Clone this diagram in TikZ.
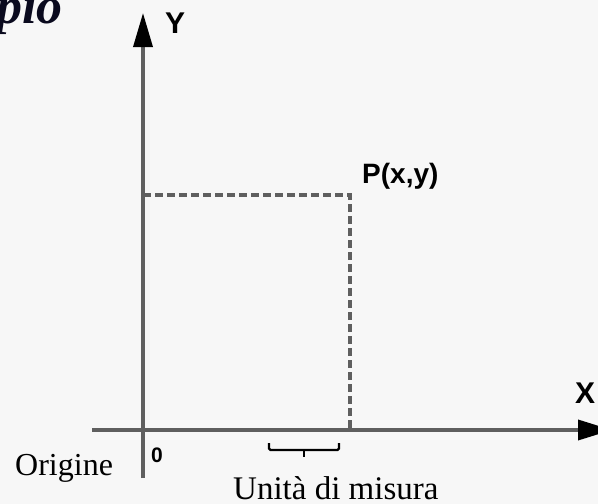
\documentclass[tikz,border=0pt]{standalone}
\usepackage{fontspec}
\setmainfont{Liberation Serif}
\newfontfamily\arialf{Liberation Sans}
\usetikzlibrary{arrows.meta}
\definecolor{bg}{RGB}{247,247,247}
\definecolor{axisgray}{RGB}{95,95,95}
\definecolor{titlecol}{RGB}{10,10,30}
\tikzset{
  axisline/.style={draw=axisgray, line width=3.5pt},
  dashline/.style={draw=axisgray, line width=3.5pt, dash pattern=on 8pt off 4pt},
  lab/.style={inner sep=0pt, anchor=base west},
  sanslab/.style={lab, font=\arialf\bfseries\fontsize{30}{30}\selectfont},
  seriflab/.style={lab, font=\fontsize{32}{32}\selectfont},
}
\begin{document}
\begin{tikzpicture}[x=1pt,y=-1pt]
\fill[bg] (0,0) rectangle (598,504);
\useasboundingbox (0,0) rectangle (598,504);
\begin{scope}
\clip (0,0) rectangle (598,504);
% coordinates
\coordinate (O) at (143,430);
\coordinate (ytop) at (143,13);
\coordinate (ybot) at (143,478);
\coordinate (xleft) at (92,430);
\coordinate (xright) at (612,430);
\coordinate (P) at (350,195);
% title fragment
\node[inner sep=0pt, anchor=base east, text=titlecol,
      font=\bfseries\itshape\fontsize{52}{52}\selectfont] (title) at (63,23) {pio};
% axes
\draw[axisline, -{Triangle[length=34pt,width=19pt,color=black]}] (ybot) -- (ytop);
\draw[axisline, -{Triangle[length=34pt,width=20pt,color=black]}] (xleft) -- (xright);
% dashed projections
\draw[dashline] (P -| O) -- (P) -- (P |- O);
% unit brace
\coordinate (b1) at (269,443);
\coordinate (b2) at (339,443);
\coordinate (bm) at (304,450);
\coordinate (bt) at (304,457);
\draw[line width=2.3pt, rounded corners=1.5pt] (b1) -- (b1 |- bm) -- (b2 |- bm) -- (b2);
\draw[line width=2.3pt] (bm) -- (bt);
% labels
\node[sanslab] (ylab) at (165,33) {Y};
\node[sanslab] (xlab) at (575,403) {X};
\node[lab, font=\arialf\bfseries\fontsize{28}{28}\selectfont] (plab) at (362,183) {P(x,y)};
\node[lab, font=\arialf\bfseries\fontsize{21}{21}\selectfont] (olab) at (151,462) {0};
\node[seriflab] (orig) at (15,475) {Origine};
\node[lab, font=\fontsize{33}{33}\selectfont] (unit) at (233,499) {Unità di misura};
\end{scope}
\end{tikzpicture}
\end{document}
